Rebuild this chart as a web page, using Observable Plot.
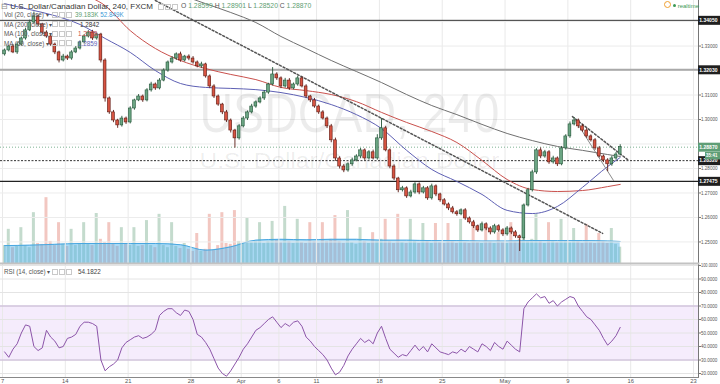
<!DOCTYPE html>
<html><head><meta charset="utf-8">
<script src="https://cdn.jsdelivr.net/npm/d3@7"></script>
<script src="https://cdn.jsdelivr.net/npm/@observablehq/plot@0.6"></script>
<style>
html,body{margin:0;padding:0;background:#fff}
#chart{position:relative;width:720px;height:384px;overflow:hidden;background:#fff;font-family:"Liberation Sans",Arial,sans-serif}
#chart > svg{position:absolute;left:0}
.t{position:absolute;white-space:nowrap;line-height:1;color:#3a3a3a}
.bx{display:inline-block;width:4px;height:4px;border:1px solid #c9c9c9;margin-right:1px;vertical-align:middle}
</style></head><body><div id="chart"></div>
<script>
// ---------- data ----------
// 8-hour candles, bar units: one week = 15 bars, Mar 7 2016 = 0
const firstOpen = 1.3266;
const closes = [1.3282,1.3298,1.3274,1.3306,1.3331,1.3364,1.3396,1.3421,1.3388,1.3355,
 1.3339,1.3306,1.3274,1.3241,1.3257,1.3249,1.3274,1.3290,1.3315,1.3339,
 1.3355,1.3331,1.3347,1.3241,1.3086,1.3029,1.2996,1.2976,1.3004,1.2988,
 1.3045,1.3078,1.3094,1.3078,1.3119,1.3143,1.3127,1.3159,1.3200,1.3233,
 1.3249,1.3266,1.3241,1.3257,1.3249,1.3233,1.3217,1.3225,1.3176,1.3135,
 1.3094,1.3061,1.3029,1.2996,1.2955,1.2923,1.2972,1.3004,1.3029,1.3053,
 1.3070,1.3086,1.3110,1.3143,1.3184,1.3168,1.3135,1.3159,1.3127,1.3143,
 1.3168,1.3135,1.3094,1.3078,1.3053,1.3029,1.3004,1.2972,1.2915,1.2841,
 1.2808,1.2792,1.2817,1.2833,1.2849,1.2874,1.2841,1.2866,1.2841,1.2923,
 1.2964,1.2874,1.2808,1.2759,1.2711,1.2719,1.2686,1.2702,1.2735,1.2702,
 1.2719,1.2678,1.2727,1.2694,1.2670,1.2653,1.2637,1.2621,1.2613,1.2629,
 1.2596,1.2580,1.2564,1.2547,1.2572,1.2555,1.2539,1.2564,1.2547,1.2531,
 1.2555,1.2539,1.2523,1.2515,1.2649,1.2711,1.2784,1.2874,1.2849,1.2866,
 1.2825,1.2841,1.2817,1.2882,1.2931,1.2980,1.2996,1.2972,1.2955,1.2931,
 1.2915,1.2882,1.2849,1.2833,1.2817,1.2841,1.2857,1.2887];
// wick lengths in pips
const wickUp = [6,5,8,7,6,9,10,18,6,5, 7,8,6,5,9,6,7,8,6,7, 8,9,6,5,7,6,8,5,9,6,
 7,5,8,6,7,9,6,8,7,6, 8,6,9,5,7,8,6,9,5,6, 7,6,5,8,6,5,7,8,6,9,
 6,7,8,5,28,7,6,9,8,6, 9,6,7,5,8,6,7,6,8,9, 7,8,6,9,7,8,6,7,9,15,
 40,8,6,7,5,8,6,9,7,6, 8,7,9,6,5,7,6,8,7,6, 7,6,8,5,9,6,7,8,6,7,
 8,6,7,5,6,8,9,7,10,8, 7,9,6,8,7,10,12,6,7,8, 6,7,8,6,7,9,8,10];
const wickDn = [7,6,5,8,6,7,5,6,8,9, 6,7,9,10,6,8,7,5,6,7, 6,8,7,10,15,8,9,12,7,8,
 6,7,5,8,6,7,8,6,5,7, 6,8,7,6,9,7,6,8,7,9, 8,7,9,8,10,40,7,6,8,6,
 7,6,8,7,6,8,9,7,8,6, 7,6,8,9,7,8,6,9,10,12, 10,9,7,8,6,9,8,7,6,7,
 8,6,9,8,10,7,8,6,7,9, 6,8,7,9,8,6,9,7,8,6, 8,7,9,8,6,9,10,7,8,9,
 7,9,8,54,8,6,7,8,9,7, 8,7,9,6,7,8,6,9,7,8, 7,8,6,9,30,8,7,6];
// volume, thousands
const volumes = [43,82,38,41,86,43,38,122,48,46, 158,53,43,98,46,41,82,43,48,98,
 46,43,120,58,50,98,48,41,86,46, 43,86,41,43,103,43,38,118,43,38,
 98,41,36,48,34,29,72,29,34,118, 31,43,122,48,46,127,53,48,108,50,
 53,98,48,53,101,55,50,137,53,48, 106,50,48,98,53,48,98,53,58,115,
 53,48,127,50,46,86,53,48,74,53, 58,106,53,48,118,50,48,106,53,48,
 96,53,48,96,50,48,96,53,48,106, 50,48,96,50,48,86,53,48,74,50,
 48,98,53,58,91,53,58,118,53,48, 98,53,50,106,53,50,84,53,48,94,
 50,48,72,53,48,84,46,39.183];
const rsi = [36,32,38,42,50,56,55,40,37,39, 52,47,44,39,40,46,47,49,55,58,
 58,57,55,30,22,25,27,30,39,43, 45,47,48,46,47,49,52,63,66,68,
 68,65,63,67,66,60,49,47,43,38, 31,24,20,18,22,27,32,38,42,47,
 52,54,57,60,62,58,54,57,55,58, 59,55,47,44,40,37,34,30,24,19,
 21,26,33,38,42,46,43,45,42,50, 55,46,38,35,32,34,33,37,41,37,
 40,36,42,39,36,35,34,36,35,38, 36,40,38,36,42,40,37,43,40,38,
 44,41,38,36,68,73,76,79,76,77, 72,74,70,73,75,77,76,70,66,62,
 60,56,52,46,41,44,48,54.1822];
// moving averages read at these bar indices
const maIndex = [0,6,12,18,24,30,36,42,48,54,60,66,72,78,84,90,96,102,108,114,120,126,132,138,144,147];
const ma200 = [1.3771,1.3735,1.3698,1.3661,1.3625,1.3588,1.3551,1.3510,1.3473,1.3437,1.3396,1.3339,1.3290,1.3241,1.3196,1.3151,1.3102,1.3057,1.3020,1.2980,1.2943,1.2914,1.2890,1.2874,1.2857,1.2849];
const ma100 = [1.3669,1.3629,1.3576,1.3518,1.3465,1.3363,1.3290,1.3241,1.3208,1.3184,1.3163,1.3131,1.3118,1.3102,1.3073,1.3029,1.2988,1.2951,1.2906,1.2833,1.2755,1.2714,1.2706,1.2710,1.2726,1.2735];
const ma50 = [1.3473,1.3449,1.3424,1.3388,1.3331,1.3274,1.3200,1.3147,1.3131,1.3127,1.3122,1.3110,1.3090,1.3061,1.3020,1.2963,1.2874,1.2796,1.2747,1.2694,1.2629,1.2616,1.2645,1.2723,1.2808,1.2845];
const volMA = [43,44,46,48,48,48,48,45,32,40,56,58,57,58,58,56,56,55,55,54,54,55,55,55,54,52.849];
// axis ticks
const weekTicks = [0,15,30,45,57,66,75,90,105,120,135,150,165];
const weekLabels = ["7","14","21","28","Apr","6","11","18","25","May","9","16","23"];
const priceGrid = [1.25,1.26,1.27,1.28,1.29,1.30,1.31,1.32,1.33,1.34,1.35];
const priceTicks = [1.25,1.26,1.27,1.28,1.30,1.31,1.33];
const rsiTicks = [20,30,40,50,60,70,80,90,100];
// drawn levels and trend lines
const levelPrices = [1.34050,1.32030,1.28320,1.27475];
const lastPrice = 1.28870;
const boxPrices = [1.34050,1.32030,1.28870,1.28320,1.27475];
const boxLabels = ["1.34050","1.32030","1.28870","1.28320","1.27475"];
const boxColors = ["#1f1f1f","#1f1f1f","#5f9e76","#1f1f1f","#1f1f1f"];
const trendMainX = [36.5,143.3], trendMainY = [1.3486,1.2535];
const trendShortX = [136.1,149.5], trendShortY = [1.3012,1.2833];
const trendGrayX = [136.8,145.9], trendGrayY = [1.2996,1.2751];

// ---------- build ----------
const candles = closes.map((c, i) => {
  const o = i === 0 ? firstOpen : closes[i - 1];
  return {i, o, c, h: Math.max(o, c) + wickUp[i] * 1e-4, l: Math.min(o, c) - wickDn[i] * 1e-4, up: c >= o, v: volumes[i], r: rsi[i]};
});
const maPts = maIndex.map((i, k) => ({i, ma200: ma200[k], ma100: ma100[k], ma50: ma50[k], vma: volMA[k]}));
const boxes = boxPrices.map((p, k) => ({p, label: boxLabels[k], bg: boxColors[k]}));
const pair = (X, Y) => X.map((x, k) => ({x, y: Y[k]}));
const labelOf = new Map(weekTicks.map((t, k) => [t, weekLabels[k]]));

const FONT = "Liberation Sans, Arial, sans-serif";
const xs = {domain: [0, 165], range: [2, 693]};
const py = {domain: [1.2412, 1.3486], range: [263, 0]};
const baseStyle = {background: "transparent", fontFamily: FONT, fontSize: "5.6px", color: "#555", overflow: "visible"};
const ctr = d => d.i + 0.5;

const volPlot = Plot.plot({
  width: 720, height: 263, marginLeft: 0, marginRight: 22, marginTop: 0, marginBottom: 0,
  x: {...xs, axis: null}, y: {domain: [0, 240], range: [263, 163], axis: null},
  style: baseStyle,
  marks: [
    Plot.rect(candles.filter(d => d.up), {x1: "i", x2: d => d.i + 1, y1: 0, y2: "v", insetLeft: 0.6, insetRight: 0.6, fill: "#6ba583", fillOpacity: 0.4}),
    Plot.rect(candles.filter(d => !d.up), {x1: "i", x2: d => d.i + 1, y1: 0, y2: "v", insetLeft: 0.6, insetRight: 0.6, fill: "#d75442", fillOpacity: 0.33}),
    Plot.areaY(maPts, {x: ctr, y: "vma", fill: "#58b6ec", fillOpacity: 0.5, curve: "monotone-x"}),
    Plot.lineY(maPts, {x: ctr, y: "vma", stroke: "#49a7e0", strokeWidth: 1, curve: "monotone-x"})
  ]
});

const pricePlot = Plot.plot({
  width: 720, height: 263, marginLeft: 0, marginRight: 22, marginTop: 0, marginBottom: 0,
  x: {...xs, axis: null}, y: {...py, axis: null},
  style: baseStyle,
  marks: [
    Plot.ruleX(weekTicks, {stroke: "#e9e9e9"}),
    Plot.ruleY(priceGrid, {stroke: "#ececec"}),
    Plot.text(["USDCAD, 240"], {text: d => d, frameAnchor: "middle", dy: -18, fontSize: 56, fill: "#000", fillOpacity: 0.075}),
    Plot.text(["U.S. Dollar/Canadian Dollar"], {text: d => d, frameAnchor: "middle", dy: 29, fontSize: 22, fill: "#000", fillOpacity: 0.075}),
    Plot.ruleY([lastPrice], {stroke: "#7fb393", strokeDasharray: "1,2"}),
    Plot.ruleY([levelPrices[0]], {stroke: "#333", strokeWidth: 1}),
    Plot.ruleY([levelPrices[1]], {stroke: "#a9a9a9", strokeWidth: 2}),
    Plot.ruleY([levelPrices[2]], {stroke: "#333", strokeDasharray: "2,1.5"}),
    Plot.ruleY([levelPrices[3]], {stroke: "#222", strokeWidth: 1.3}),
    Plot.lineY(maPts, {x: ctr, y: "ma200", stroke: "#707070", strokeWidth: 1, curve: "monotone-x", clip: true}),
    Plot.lineY(maPts, {x: ctr, y: "ma100", stroke: "#c9504c", strokeWidth: 1, curve: "monotone-x", clip: true}),
    Plot.lineY(maPts, {x: ctr, y: "ma50", stroke: "#5e60b4", strokeWidth: 1, curve: "monotone-x", clip: true}),
    Plot.line(pair(trendMainX, trendMainY), {x: "x", y: "y", stroke: "#555", strokeDasharray: "2,2", clip: true}),
    Plot.line(pair(trendShortX, trendShortY), {x: "x", y: "y", stroke: "#555", strokeDasharray: "2,2", clip: true}),
    Plot.line(pair(trendGrayX, trendGrayY), {x: "x", y: "y", stroke: "#8a8a8a", strokeWidth: 1, clip: true}),
    Plot.ruleX(candles, {x: ctr, y1: "l", y2: "h", stroke: d => d.up ? "#225437" : "#5b1a13", strokeWidth: 0.9, clip: true}),
    Plot.rect(candles.filter(d => d.up), {x1: "i", x2: d => d.i + 1, y1: "o", y2: "c", insetLeft: 0.7, insetRight: 0.7, fill: "#6ba583", stroke: "#225437", strokeWidth: 0.6, clip: true}),
    Plot.rect(candles.filter(d => !d.up), {x1: "i", x2: d => d.i + 1, y1: "o", y2: "c", insetLeft: 0.7, insetRight: 0.7, fill: "#d75442", stroke: "#5b1a13", strokeWidth: 0.6, clip: true}),
    Plot.axisY(priceTicks, {anchor: "right", tickSize: 2, tickPadding: 0.5, tickFormat: d3.format(".5f"), stroke: "#777"}),
    Plot.frame({anchor: "right", stroke: "#777"})
  ]
});

const boxPlot = Plot.plot({
  width: 720, height: 263, marginLeft: 698, marginRight: 0, marginTop: 0, marginBottom: 0,
  x: {domain: [0, 22], range: [698, 720], axis: null}, y: {...py, axis: null},
  color: {type: "identity"},
  style: baseStyle,
  marks: [
    Plot.ruleY(boxes, {y: "p", stroke: "bg", strokeWidth: 9}),
    Plot.text(boxes, {y: "p", frameAnchor: "left", dx: 0.8, textAnchor: "start", text: "label", fill: "#fff", fontWeight: "bold", fontSize: 5.6}),
    Plot.ruleY([lastPrice], {x1: 7, x2: 22, dy: 8.5, stroke: "#5f9e76", strokeWidth: 7.5}),
    Plot.text(["35:41"], {y: () => lastPrice, x: 7.6, dy: 8.5, textAnchor: "start", text: d => d, fill: "#fff", fontWeight: "bold", fontSize: 5.1})
  ]
});

const rsiPlot = Plot.plot({
  width: 720, height: 125, marginLeft: 0, marginRight: 22, marginTop: 4, marginBottom: 7,
  x: {...xs, axis: null}, y: {domain: [20, 100], range: [114, 6], axis: null},
  style: {...baseStyle, fontSize: "5.2px"},
  marks: [
    Plot.rect([{a: 30, b: 70}], {y1: "a", y2: "b", fill: "#a040e0", fillOpacity: 0.1}),
    Plot.ruleX(weekTicks, {stroke: "#e9e9e9"}),
    Plot.ruleY(rsiTicks, {stroke: "#e4e4e4"}),
    Plot.ruleY([30, 70], {stroke: "#c7b4d6"}),
    Plot.lineY(candles, {x: ctr, y: "r", stroke: "#8c55a9", strokeWidth: 1, clip: true}),
    Plot.axisY(rsiTicks, {anchor: "right", tickSize: 2, tickPadding: 0.5, tickFormat: d3.format(".4f"), stroke: "#777"}),
    Plot.axisX(weekTicks, {anchor: "bottom", tickSize: 1, tickPadding: 0, tickFormat: d => labelOf.get(d), stroke: "#777", fontSize: 5.8}),
    Plot.frame({anchor: "right", stroke: "#777"}),
    Plot.frame({anchor: "bottom", stroke: "#888"}),
    Plot.frame({anchor: "top", stroke: "#c2c2c2", strokeWidth: 2})
  ]
});

const chart = document.getElementById("chart");
[[volPlot, 0], [pricePlot, 0], [boxPlot, 0], [rsiPlot, 259]].forEach(([el, top]) => {
  el.style.position = "absolute"; el.style.left = "0px"; el.style.top = top + "px";
  chart.appendChild(el);
});
// fit the watermark texts to their width
pricePlot.querySelectorAll("text").forEach(t => {
  if (t.textContent === "USDCAD, 240" || t.textContent === "U.S. Dollar/Canadian Dollar") {
    t.setAttribute("textLength", 300); t.setAttribute("lengthAdjust", "spacingAndGlyphs");
  }
});
// condense right-axis labels so they stay inside the 720px window
const edge = chart.getBoundingClientRect().left + 717.5;
chart.querySelectorAll("svg text").forEach(t => {
  const r = t.getBoundingClientRect();
  if (r.right > edge && r.left < edge) {
    const len = t.getComputedTextLength();
    const fit = Math.max(4, len - (r.right - edge));
    t.setAttribute("textLength", fit.toFixed(2)); t.setAttribute("lengthAdjust", "spacingAndGlyphs");
  }
});

// ---------- legend / header text ----------
function addText(html, left, top, size, color) {
  const d = document.createElement("div");
  d.className = "t"; d.innerHTML = html;
  d.style.left = left + "px"; d.style.top = top + "px"; d.style.fontSize = size + "px";
  if (color) d.style.color = color;
  chart.appendChild(d);
}
const boxesHtml = '<span class="bx"></span><span class="bx"></span><span class="bx"></span>';
const g = s => `<span style="color:#5e9e72">${s}</span>`;
addText('<span style="color:#8a8a8a">⊟</span> U.S. Dollar/Canadian Dollar, 240, FXCM', 1, 2.5, 8, "#333");
addText(boxesHtml, 158, 2.5, 7);
addText(`O ${g("1.28599")} H ${g("1.28901")} L ${g("1.28520")} C ${g("1.28870")}`, 181, 3, 6.8, "#555");
const rows = [
  ["Vol (20, close) ▾", 12, '<span style="color:#5e9e72">39.183K</span> <span style="color:#3d9ad6">52.849K</span>', 75],
  ["MA (200, close) ▾", 21.5, '<span style="color:#333">1.2842</span>', 80],
  ["MA (100, close) ▾", 31, '<span style="color:#c9504c">1.2738</span>', 78],
  ["MA (50, close) ▾", 40.5, '<span style="color:#5e60b4">1.2859</span>', 78]
];
rows.forEach(([lab, top, val, vx]) => {
  addText(lab, 4, top, 6.3, "#555");
  addText(boxesHtml, 52, top - 0.5, 6.3);
  addText(val, vx, top, 6.3);
});
addText("RSI (14, close) ▾", 4, 269, 6.3, "#555");
addText(boxesHtml, 52, 268.5, 6.3);
addText("54.1822", 78, 269, 6.3, "#444");
addText('<span style="display:inline-block;width:5px;height:5px;border:1.5px solid #f0a030;border-radius:50%"></span>', 664, 1, 6);
addText('<span style="display:inline-block;width:3px;height:3px;background:#3d9a55;border-radius:50%;vertical-align:middle"></span> realtime', 673, 2.5, 6, "#3d9a55");
</script></body></html>
